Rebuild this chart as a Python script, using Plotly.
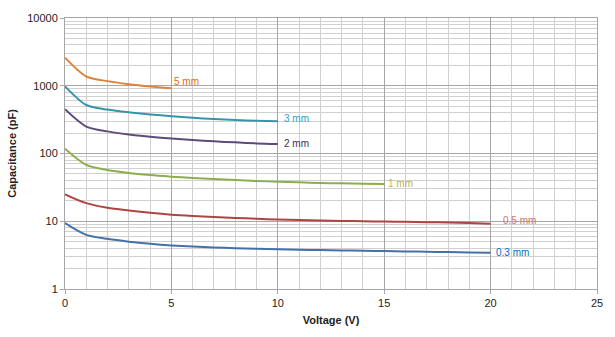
import math
import plotly.graph_objects as go

voltage = list(range(0, 21))

cap_5mm = [2600, 1370, 1170, 1055, 975, 915]
cap_3mm = [980, 520, 445, 405, 377, 355, 337, 323, 312, 304, 298]
cap_2mm = [450, 250, 212, 191, 177, 166, 158, 151, 146, 141, 138]
cap_1mm = [118, 68, 57, 51.5, 48, 45.5, 43.5, 42, 40.5, 39.3, 38.3, 37.5, 36.8, 36.3, 35.9, 35.5]
cap_05mm = [25, 18.5, 15.8, 14.4, 13.3, 12.5, 12.0, 11.6, 11.2, 10.9, 10.6,
            10.4, 10.25, 10.1, 10.0, 9.9, 9.8, 9.7, 9.6, 9.45, 9.2]
cap_03mm = [9.4, 6.3, 5.5, 5.0, 4.65, 4.4, 4.23, 4.1, 4.0, 3.92, 3.85,
            3.8, 3.75, 3.71, 3.67, 3.63, 3.59, 3.55, 3.51, 3.47, 3.44]

series_names = ["5 mm", "3 mm", "2 mm", "1 mm", "0.5 mm", "0.3 mm"]
series_values = [cap_5mm, cap_3mm, cap_2mm, cap_1mm, cap_05mm, cap_03mm]
line_colors = ["#E0823C", "#3794A8", "#5F4B7B", "#8DAE4E", "#B04442", "#4571AA"]
label_colors = ["#E46C0A", "#31A0C8", "#403152", "#C0B050", "#D07373", "#0070C0"]
label_shift = [(1, 7), (4, 3), (4, 1), (2, 0), (10, 3), (3, 0)]

fig = go.Figure()
for name, vals, lc, tc, (xs, ys) in zip(series_names, series_values, line_colors,
                                         label_colors, label_shift):
    xv = voltage[:len(vals)]
    fig.add_trace(go.Scatter(x=xv, y=vals, mode="lines", name=name,
                             line=dict(color=lc, width=2, shape="spline", smoothing=0.8),
                             showlegend=False))
    fig.add_annotation(x=xv[-1], y=math.log10(vals[-1]), text=name, showarrow=False,
                       xanchor="left", yanchor="middle", xshift=xs, yshift=ys,
                       font=dict(color=tc, size=10, family="Liberation Sans, Arial"))

fig.update_layout(
    width=615, height=337,
    margin=dict(l=63, r=16, t=15, b=44),
    paper_bgcolor="white", plot_bgcolor="white",
    font=dict(family="Liberation Sans, Arial", size=11, color="#222"),
    xaxis=dict(range=[0, 25], dtick=5, tick0=0, showgrid=True, gridcolor="#A6A6A6",
               gridwidth=1, zeroline=False, showline=True, linecolor="#A6A6A6",
               mirror=True, ticks="outside", ticklen=4, tickcolor="#A6A6A6",
               minor=dict(dtick=1, showgrid=True, gridcolor="#D0D0D0", gridwidth=1),
               title=dict(text="<b>Voltage (V)</b>", font=dict(size=11, color="#222"),
                          standoff=8)),
    yaxis=dict(type="log", range=[0, 4], dtick=1, tickformat="d", showgrid=True,
               gridcolor="#A6A6A6", gridwidth=1, zeroline=False, showline=True,
               linecolor="#A6A6A6", mirror=True, ticks="outside", ticklen=4,
               tickcolor="#A6A6A6",
               minor=dict(dtick="D1", showgrid=True, gridcolor="#D0D0D0", gridwidth=1),
               title=dict(text="<b>Capacitance (pF)</b>", font=dict(size=11, color="#222"),
                          standoff=8)),
)

fig.write_html("out.html")
